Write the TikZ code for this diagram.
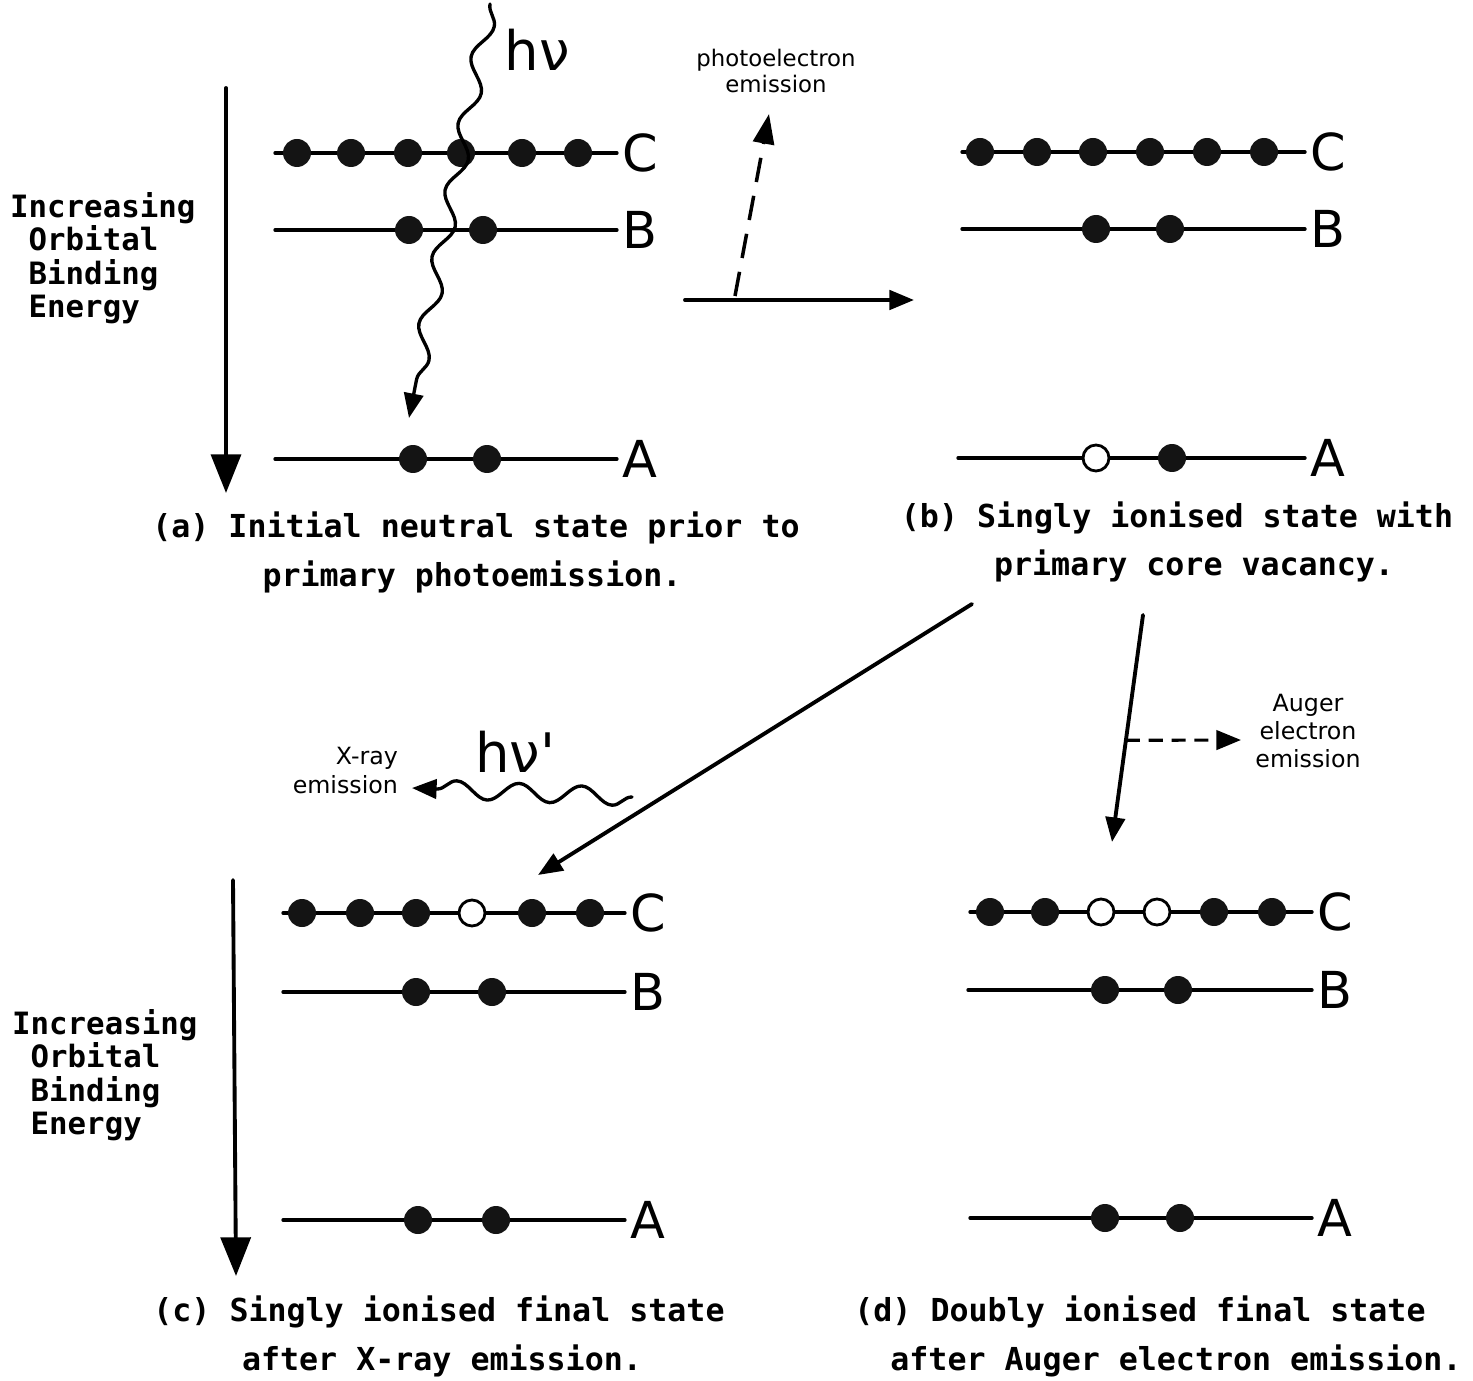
\documentclass[tikz,border=0pt]{standalone}
\usepackage{fontspec}
\setmainfont{DejaVu Sans Mono}
\newfontfamily\lblfont{DejaVu Sans}
\usetikzlibrary{arrows.meta,calc,decorations.pathmorphing,positioning}

\begin{document}
\begin{tikzpicture}[x=0.02cm,y=-0.02cm,>={Triangle[length=14pt,width=11pt]},
  line cap=round,line join=round,
  level/.style={line width=1.9pt},
  dot/.style={circle,inner sep=0pt,minimum size=0.56cm,fill=black!92},
  hole/.style={circle,inner sep=0pt,minimum size=0.52cm,draw,line width=1.6pt,fill=white},
  lvl/.style={font=\lblfont\fontsize{29}{29}\selectfont,inner sep=2pt},
  captext/.style={font=\bfseries\fontsize{18}{28}\selectfont},
  side/.style={font=\bfseries\fontsize{17.5}{19}\selectfont,align=left,anchor=west},
  note/.style={font=\lblfont\fontsize{13}{14.5}\selectfont,align=center,inner sep=1pt},
  hv/.style={font=\lblfont\fontsize{31}{31}\selectfont,inner sep=0pt},
  arr/.style={->,line width=2.2pt},
  axis/.style={arr,>={Triangle[length=22pt,width=17pt]}},
  photon/.style={decorate,line width=1.9pt,decoration={snake,amplitude=0.17cm,
    segment length=1.36cm,post length=0.5cm}}]
\path[use as bounding box] (0,0) rectangle (1473,1381);
\fill[white] (0,0) rectangle (1473,1381);

% (a) initial neutral state
\begin{scope}[shift={(275,153)}]
  \draw[level] (0,0) -- ++(342,0) node[lvl,right] (aC) {C};
  \draw[level] (0,77) -- ++(342,0) node[lvl,right] (aB) {B};
  \draw[level] (0,306) -- ++(342,0) node[lvl,right] (aA) {A};
  \foreach \x [count=\i] in {22,76,133,186,247,303} \node[dot] (ac\i) at (\x,0) {};
  \foreach \x [count=\i] in {134,208} \node[dot] (ab\i) at (\x,77) {};
  \foreach \x [count=\i] in {138,212} \node[dot] (aa\i) at (\x,306) {};
\end{scope}
\coordinate (aTop) at (226,88);
\coordinate (aBot) at (226,493);
\draw[axis] (aTop) -- (aBot);
\node[side] (aSide) at (4,258) {Increasing\\\phantom{I}Orbital\\\phantom{I}Binding\\\phantom{I}Energy};
\coordinate (hvIn) at (490,4);
\coordinate (hvEnd) at (409,418);
\draw[photon,->] (hvIn) -- (ac4.center) -- (hvEnd);
\node[hv] (hvA) at (537,50) {hν};
\node[captext] (capA1) at (476,528) {(a) Initial neutral state prior to};
\node[captext] (capA2) at (472,577) {primary photoemission.};

% photoemission step
\coordinate (pStart) at (685,300);
\coordinate (pEnd) at (914,300);
\draw[arr] (pStart) -- (pEnd);
\coordinate (peFoot) at (735,296);
\coordinate (peTip) at (769,114);
\draw[arr,>={Triangle[length=17pt,width=12pt]},dash pattern=on 14pt off 8pt,line width=2pt,line cap=butt] (peFoot) -- (peTip);
\node[note] (peLbl) at (776,71) {photoelectron\\emission};

% (b) singly ionised state
\begin{scope}[shift={(962,152)}]
  \draw[level] (0,0) -- ++(343,0) node[lvl,right] (bC) {C};
  \draw[level] (0,77) -- ++(343,0) node[lvl,right] (bB) {B};
  \draw[level] (-4,306) -- ++(347,0) node[lvl,right] (bA) {A};
  \foreach \x [count=\i] in {18,75,131,188,245,302} \node[dot] (bc\i) at (\x,0) {};
  \foreach \x [count=\i] in {134,208} \node[dot] (bb\i) at (\x,77) {};
  \node[hole] (ba1) at (134,306) {};
  \node[dot] (ba2) at (210,306) {};
\end{scope}
\node[captext] (capB1) at (1177,518) {(b) Singly ionised state with};
\node[captext] (capB2) at (1194,566) {primary core vacancy.};

% decay routes
\coordinate (xStart) at (972,604);
\coordinate (xEnd) at (538,875);
\draw[arr] (xStart) -- (xEnd);
\coordinate (augStart) at (1143,615);
\coordinate (augEnd) at (1112,842);
\draw[arr] (augStart) -- (augEnd);
\coordinate (augFoot) at ($(augStart)!0.552!(augEnd)$);
\coordinate (augTip) at (1241,740);
\draw[arr,dash pattern=on 8pt off 5pt,line width=1.8pt,line cap=butt] (augFoot) -- (augTip);
\node[note,font=\lblfont\fontsize{13.5}{16}\selectfont] (augLbl) at (1308,731) {Auger\\electron\\emission};
\coordinate (xrIn) at (632,797);
\coordinate (xrTip) at (412,788);
\draw[photon,->,decoration={snake,amplitude=0.18cm,segment length=1.25cm,post length=0.35cm}] (xrIn) -- (xrTip);
\node[hv] (hvC) at (515,752) {hν'};
\node[note,align=right,anchor=east,font=\lblfont\fontsize{13.5}{16.5}\selectfont] (xrLbl) at (400,771) {X-ray\\emission};

% (c) after X-ray emission
\begin{scope}[shift={(283,913)}]
  \draw[level] (0,0) -- ++(342,0) node[lvl,right] (cC) {C};
  \draw[level] (0,79) -- ++(342,0) node[lvl,right] (cB) {B};
  \draw[level] (0,307) -- ++(342,0) node[lvl,right] (cA) {A};
  \foreach \x [count=\i] in {19,77,133} \node[dot] (cc\i) at (\x,0) {};
  \node[hole] (cc4) at (189,0) {};
  \node[dot] (cc5) at (249,0) {};
  \node[dot] (cc6) at (307,0) {};
  \foreach \x [count=\i] in {133,209} \node[dot] (cb\i) at (\x,79) {};
  \foreach \x [count=\i] in {135,213} \node[dot] (ca\i) at (\x,307) {};
\end{scope}
\coordinate (cTop) at (233,880);
\coordinate (cBot) at (236,1276);
\draw[axis] (cTop) -- (cBot);
\node[side] (cSide) at (6,1075) {Increasing\\\phantom{I}Orbital\\\phantom{I}Binding\\\phantom{I}Energy};
\node[captext] (capC1) at (439,1312) {(c) Singly ionised final state};
\node[captext] (capC2) at (442,1361) {after X-ray emission.};

% (d) after Auger emission
\begin{scope}[shift={(970,912)}]
  \draw[level] (0,0) -- ++(342,0) node[lvl,right] (dC) {C};
  \draw[level] (-2,78) -- ++(344,0) node[lvl,right] (dB) {B};
  \draw[level] (0,306) -- ++(342,0) node[lvl,right] (dA) {A};
  \node[dot] (dc1) at (20,0) {};
  \node[dot] (dc2) at (75,0) {};
  \node[hole] (dc3) at (131,0) {};
  \node[hole] (dc4) at (187,0) {};
  \node[dot] (dc5) at (244,0) {};
  \node[dot] (dc6) at (302,0) {};
  \foreach \x [count=\i] in {135,208} \node[dot] (db\i) at (\x,78) {};
  \foreach \x [count=\i] in {135,210} \node[dot] (da\i) at (\x,306) {};
\end{scope}
\node[captext] (capD1) at (1140,1312) {(d) Doubly ionised final state};
\node[captext] (capD2) at (1176,1361) {after Auger electron emission.};
\end{tikzpicture}
\end{document}
